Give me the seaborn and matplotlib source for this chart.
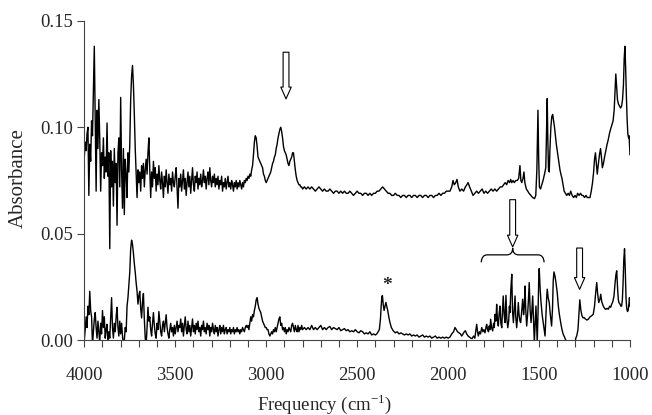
import numpy as np
import pandas as pd
import matplotlib
matplotlib.use("Agg")
import matplotlib.pyplot as plt
import seaborn as sns
from matplotlib.path import Path
from matplotlib.patches import PathPatch
from matplotlib.ticker import MultipleLocator, FormatStrFormatter

# ---------------- data ----------------
# Upper spectrum
upper_seg1_range = (4000, 3480)   # 5 cm-1 steps
upper_seg1 = [0.086, 0.093, 0.089, 0.097, 0.100, 0.068, 0.092, 0.084, 0.103, 0.096,
              0.118, 0.138, 0.102, 0.070, 0.108, 0.090, 0.113, 0.094, 0.070, 0.088,
              0.082, 0.095, 0.076, 0.086, 0.079, 0.102, 0.077, 0.088, 0.043, 0.089,
              0.072, 0.084, 0.063, 0.090, 0.074, 0.083, 0.054, 0.088, 0.095, 0.072,
              0.114, 0.080, 0.062, 0.090, 0.059, 0.085, 0.078, 0.067, 0.088, 0.079,
              0.092, 0.113, 0.124, 0.129, 0.120, 0.106, 0.090, 0.078, 0.067, 0.080,
              0.074, 0.079, 0.070, 0.082, 0.076, 0.083, 0.072, 0.080, 0.085, 0.078,
              0.088, 0.095, 0.080, 0.067, 0.079, 0.072, 0.084, 0.076, 0.081, 0.070,
              0.078, 0.073, 0.082, 0.075, 0.071, 0.079, 0.074, 0.067, 0.077, 0.072,
              0.080, 0.074, 0.069, 0.078, 0.073, 0.076, 0.070, 0.079, 0.074, 0.072,
              0.077, 0.081, 0.071, 0.062, 0.076]
upper_seg2_range = (3475, 3110)   # 5 cm-1 steps
upper_seg2 = [0.072, 0.078, 0.070, 0.075, 0.080, 0.071, 0.076, 0.068, 0.074, 0.079,
              0.072, 0.077, 0.069, 0.075, 0.081, 0.073, 0.070, 0.077, 0.074, 0.079,
              0.071, 0.076, 0.073, 0.078, 0.072, 0.075, 0.080, 0.074, 0.077, 0.071,
              0.076, 0.079, 0.073, 0.081, 0.075, 0.072, 0.077, 0.074, 0.078, 0.072,
              0.076, 0.073, 0.077, 0.071, 0.075, 0.073, 0.077, 0.070, 0.074, 0.072,
              0.076, 0.071, 0.074, 0.077, 0.072, 0.074, 0.071, 0.075, 0.073, 0.070,
              0.074, 0.072, 0.075, 0.071, 0.074, 0.072, 0.075, 0.073, 0.071, 0.074,
              0.072, 0.075, 0.074, 0.076]
upper_seg3_range = (3105, 2800)   # 5 cm-1 steps
upper_seg3 = [0.075, 0.077, 0.076, 0.078, 0.077, 0.080, 0.082, 0.087, 0.093, 0.096,
              0.095, 0.091, 0.086, 0.085, 0.084, 0.083, 0.082, 0.081, 0.078, 0.077,
              0.075, 0.074, 0.075, 0.076, 0.077, 0.078, 0.079, 0.081, 0.083, 0.084,
              0.086, 0.087, 0.090, 0.092, 0.095, 0.097, 0.099, 0.100, 0.098, 0.095,
              0.091, 0.089, 0.088, 0.087, 0.085, 0.083, 0.082, 0.084, 0.085, 0.086,
              0.088, 0.088, 0.084, 0.080, 0.077, 0.075, 0.074, 0.073, 0.073, 0.072,
              0.072, 0.071]
upper_seg4_range = (2790, 2000)   # 10 cm-1 steps
upper_seg4 = [0.072, 0.071, 0.072, 0.071, 0.072, 0.071, 0.070, 0.071, 0.072, 0.071,
              0.070, 0.071, 0.070, 0.070, 0.071, 0.070, 0.069, 0.070, 0.070, 0.069,
              0.070, 0.069, 0.070, 0.069, 0.069, 0.070, 0.069, 0.068, 0.069, 0.070,
              0.069, 0.069, 0.068, 0.069, 0.069, 0.068, 0.069, 0.068, 0.069, 0.069,
              0.070, 0.070, 0.071, 0.072, 0.071, 0.070, 0.069, 0.069, 0.068, 0.068,
              0.069, 0.068, 0.068, 0.067, 0.068, 0.068, 0.067, 0.068, 0.068, 0.067,
              0.068, 0.068, 0.067, 0.068, 0.068, 0.067, 0.068, 0.068, 0.067, 0.068,
              0.068, 0.067, 0.068, 0.068, 0.069, 0.068, 0.069, 0.069, 0.070, 0.070]
upper_seg5_wn = [1990, 1980, 1973, 1966, 1958, 1951, 1944, 1935, 1925, 1915, 1905, 1897,
                 1890, 1882, 1872, 1863, 1853, 1843, 1833, 1823, 1813, 1803, 1793, 1783,
                 1773, 1763, 1753, 1743, 1733, 1723, 1713, 1703, 1695, 1686, 1678, 1670,
                 1662, 1656, 1650, 1643, 1636, 1628, 1620, 1612, 1605, 1600, 1595, 1588,
                 1583, 1578, 1570, 1562, 1555, 1545, 1535, 1525, 1518, 1512, 1506, 1502,
                 1498, 1492, 1485, 1478, 1470, 1463, 1458, 1455, 1452, 1448, 1444, 1440,
                 1435, 1430, 1425, 1420, 1415, 1410, 1405, 1400, 1395, 1390, 1385, 1380,
                 1374, 1368, 1362, 1355, 1348, 1340, 1333, 1326, 1318, 1310, 1302, 1295,
                 1288, 1280, 1272, 1265, 1258, 1250, 1242, 1235, 1227, 1220, 1213, 1206,
                 1200, 1195, 1190, 1185, 1180, 1175, 1168, 1162, 1157, 1152, 1146, 1140,
                 1133, 1126, 1120, 1113, 1107, 1100, 1093, 1087, 1082, 1078, 1074, 1069,
                 1064, 1058, 1052, 1046, 1041, 1036, 1032, 1028, 1024, 1020, 1016, 1012,
                 1008, 1005, 1002, 1000]
upper_seg5 = [0.070, 0.072, 0.075, 0.073, 0.074, 0.0755, 0.072, 0.070, 0.071, 0.070, 0.072, 0.073,
              0.074, 0.072, 0.070, 0.068, 0.069, 0.070, 0.069, 0.070, 0.071, 0.069, 0.070, 0.069,
              0.070, 0.071, 0.070, 0.071, 0.070, 0.071, 0.072, 0.072, 0.073, 0.074, 0.073, 0.075,
              0.074, 0.0755, 0.074, 0.075, 0.074, 0.075, 0.075, 0.076, 0.082, 0.075, 0.074, 0.076,
              0.079, 0.074, 0.071, 0.070, 0.069, 0.068, 0.067, 0.0665, 0.068, 0.080, 0.108, 0.085,
              0.072, 0.071, 0.073, 0.075, 0.078, 0.081, 0.100, 0.1135, 0.095, 0.080, 0.079, 0.090,
              0.100, 0.105, 0.106, 0.103, 0.100, 0.096, 0.092, 0.089, 0.086, 0.083, 0.080, 0.078,
              0.076, 0.073, 0.070, 0.069, 0.068, 0.069, 0.068, 0.070, 0.068, 0.067, 0.068, 0.067,
              0.069, 0.068, 0.069, 0.068, 0.068, 0.067, 0.068, 0.067, 0.067, 0.067, 0.070, 0.074,
              0.079, 0.085, 0.088, 0.083, 0.078, 0.082, 0.087, 0.090, 0.086, 0.081, 0.083, 0.086,
              0.089, 0.092, 0.094, 0.097, 0.099, 0.101, 0.103, 0.108, 0.118, 0.125, 0.120, 0.113,
              0.111, 0.110, 0.109, 0.110, 0.113, 0.120, 0.132, 0.138, 0.128, 0.115, 0.104, 0.097,
              0.095, 0.096, 0.091, 0.087]

# Lower spectrum
lower_seg1_range = (4000, 3480)   # 5 cm-1 steps
lower_seg1 = [0.000, 0.005, 0.011, 0.006, 0.016, 0.012, 0.023, 0.014, 0.011, -0.002,
              0.004, 0.010, 0.013, 0.006, 0.001, 0.009, 0.004, -0.001, 0.008, 0.003,
              0.014, 0.006, 0.011, 0.001, 0.005, 0.0075, -0.001, 0.004, 0.001, 0.010,
              0.020, 0.006, 0.001, 0.008, 0.004, 0.011, 0.0155, 0.006, 0.002, 0.009,
              0.003, 0.008, 0.002, -0.002, 0.000, 0.006, 0.004, 0.016, 0.020, 0.026,
              0.032, 0.043, 0.047, 0.045, 0.041, 0.036, 0.032, 0.027, 0.023, 0.017,
              0.021, 0.023, 0.015, 0.0105, 0.018, 0.022, 0.010, 0.001, -0.002, 0.006,
              0.0155, 0.009, 0.011, 0.005, 0.002, 0.008, 0.013, 0.007, 0.003, 0.001,
              0.008, 0.005, 0.0135, 0.009, 0.004, 0.002, 0.007, 0.009, 0.004, 0.008,
              0.012, 0.006, 0.003, 0.001, 0.005, 0.008, 0.004, 0.006, 0.002, 0.007,
              0.003, 0.006, 0.009, 0.004, 0.007]
lower_seg2_range = (3475, 3110)   # 5 cm-1 steps
lower_seg2 = [0.006, 0.010, 0.004, 0.008, 0.002, 0.007, 0.011, 0.005, 0.003, 0.009,
              0.004, 0.007, 0.002, 0.006, 0.010, 0.004, 0.007, 0.003, 0.008, 0.005,
              0.009, 0.004, 0.006, 0.002, 0.007, 0.005, 0.009, 0.004, 0.006, 0.003,
              0.008, 0.005, 0.007, 0.002, 0.006, 0.004, 0.008, 0.005, 0.003, 0.007,
              0.004, 0.006, 0.002, 0.005, 0.007, 0.003, 0.006, 0.004, 0.007, 0.003,
              0.005, 0.006, 0.003, 0.005, 0.004, 0.006, 0.003, 0.005, 0.004, 0.006,
              0.003, 0.005, 0.004, 0.006, 0.004, 0.005, 0.003, 0.005, 0.004, 0.006,
              0.005, 0.004, 0.006, 0.007]
lower_seg3_range = (3105, 2800)   # 5 cm-1 steps
lower_seg3 = [0.006, 0.007, 0.005, 0.008, 0.011, 0.009, 0.012, 0.011, 0.014, 0.016,
              0.019, 0.020, 0.017, 0.015, 0.014, 0.013, 0.011, 0.009, 0.008, 0.007,
              0.006, 0.006, 0.005, 0.005, 0.003, 0.002, 0.003, 0.004, 0.003, 0.005,
              0.004, 0.006, 0.004, 0.006, 0.008, 0.010, 0.011, 0.007, 0.008, 0.005,
              0.006, 0.004, 0.006, 0.003, 0.005, 0.004, 0.006, 0.005, 0.004, 0.007,
              0.008, 0.006, 0.004, 0.007, 0.005, 0.004, 0.007, 0.004, 0.006, 0.005,
              0.007, 0.005]
lower_seg4_wn = [2790, 2780, 2770, 2760, 2750, 2740, 2730, 2720, 2710, 2700, 2690, 2680,
                 2670, 2660, 2650, 2640, 2630, 2620, 2610, 2600, 2590, 2580, 2570, 2560,
                 2550, 2540, 2530, 2520, 2510, 2500, 2490, 2480, 2470, 2460, 2450, 2440,
                 2430, 2420, 2410, 2400, 2392, 2385, 2378, 2372, 2368, 2364, 2361, 2357,
                 2352, 2347, 2342, 2337, 2332, 2326, 2320, 2312, 2302, 2290, 2280, 2270,
                 2260, 2250, 2240, 2230, 2220, 2210, 2200, 2190, 2180, 2170, 2160, 2150,
                 2140, 2130, 2120, 2110, 2100, 2090, 2080, 2070, 2060, 2050, 2040, 2030,
                 2020, 2010, 2000]
lower_seg4 = [0.006, 0.005, 0.006, 0.005, 0.007, 0.005, 0.006, 0.005, 0.006, 0.007, 0.005, 0.006,
              0.005, 0.006, 0.0065, 0.005, 0.006, 0.0055, 0.005, 0.006, 0.0045, 0.005, 0.0055, 0.0045,
              0.005, 0.004, 0.0045, 0.004, 0.005, 0.004, 0.0035, 0.0045, 0.004, 0.003, 0.0035, 0.003,
              0.004, 0.0025, 0.003, 0.0025, 0.003, 0.004, 0.005, 0.010, 0.016, 0.0205, 0.021, 0.017,
              0.014, 0.016, 0.0178, 0.016, 0.014, 0.011, 0.0085, 0.006, 0.0045, 0.0035, 0.004, 0.003,
              0.0035, 0.003, 0.0025, 0.003, 0.0025, 0.003, 0.002, 0.0025, 0.002, 0.0025, 0.0015, 0.002,
              0.0025, 0.0015, 0.002, 0.0015, 0.002, 0.001, 0.0015, 0.002, 0.001, 0.0015, 0.001, 0.0015,
              0.001, 0.0015, 0.001]
lower_seg5_wn = [1990, 1980, 1970, 1962, 1955, 1948, 1940, 1932, 1925, 1918, 1911, 1905,
                 1898, 1890, 1882, 1875, 1868, 1860, 1853, 1847, 1843, 1838, 1834, 1828,
                 1822, 1815, 1809, 1803, 1797, 1792, 1788, 1783, 1778, 1774, 1770, 1766,
                 1761, 1755, 1750, 1746, 1742, 1737, 1733, 1729, 1724, 1720, 1715, 1710,
                 1705, 1701, 1697, 1692, 1687, 1682, 1677, 1672, 1667, 1663, 1660, 1655,
                 1650, 1646, 1641, 1636, 1632, 1628, 1623, 1619, 1614, 1610, 1605, 1601,
                 1596, 1590, 1585, 1581, 1577, 1573, 1568, 1563, 1559, 1554, 1549, 1544,
                 1540, 1535, 1530, 1526, 1521, 1517, 1513, 1510, 1505, 1502, 1499, 1494,
                 1489, 1483, 1477, 1472, 1467, 1462, 1458, 1455, 1450, 1444, 1438, 1431,
                 1426, 1422, 1418, 1412, 1407, 1400, 1394, 1388, 1381, 1374, 1367, 1360,
                 1353, 1348, 1340, 1330, 1320, 1310, 1302, 1298, 1293, 1286, 1281, 1276,
                 1270, 1264, 1258, 1253, 1245, 1237, 1229, 1220, 1211, 1202, 1195, 1189,
                 1183, 1178, 1172, 1166, 1161, 1155, 1147, 1140, 1133, 1126, 1119, 1112,
                 1106, 1101, 1095, 1088, 1082, 1077, 1073, 1068, 1064, 1061, 1055, 1050,
                 1046, 1042, 1038, 1034, 1030, 1026, 1022, 1018, 1014, 1010, 1006, 1003,
                 1000]
lower_seg5 = [0.0015, 0.003, 0.004, 0.006, 0.005, 0.004, 0.0035, 0.003, 0.002, 0.003, 0.004, 0.0045,
              0.003, 0.002, 0.0015, 0.001, 0.0008, 0.002, 0.001, 0.005, 0.0075, 0.004, 0.002, 0.004,
              0.003, 0.006, 0.004, 0.005, 0.0035, 0.006, 0.0075, 0.005, 0.004, 0.0067, 0.005, 0.0099,
              0.006, 0.0044, 0.008, 0.006, 0.0122, 0.009, 0.0169, 0.010, 0.0067, 0.012, 0.0161, 0.008,
              0.0059, 0.014, 0.0208, 0.012, 0.0083, 0.0211, 0.010, 0.0059, 0.009, 0.016, 0.013, 0.024,
              0.031, 0.014, 0.0083, 0.015, 0.0208, 0.011, 0.0059, 0.010, 0.0177, 0.012, 0.009, 0.0083,
              0.013, 0.0193, 0.012, 0.016, 0.0255, 0.014, 0.0067, 0.012, 0.018, 0.0271, 0.014, 0.0083,
              0.013, 0.0208, 0.008, -0.001, 0.008, 0.0161, 0.006, -0.001, 0.015, 0.028, 0.0337, 0.024,
              0.0177, 0.012, 0.0083, 0.005, 0.002, 0.012, 0.020, 0.024, 0.020, 0.0177, 0.012, 0.0067,
              0.015, 0.028, 0.0321, 0.030, 0.0271, 0.0223, 0.0161, 0.012, 0.0083, 0.005, 0.0028, 0.0015,
              0.000, -0.001, -0.002, -0.003, -0.002, -0.003, -0.001, 0.001, 0.002, 0.005, 0.012, 0.019,
              0.014, 0.0115, 0.0105, 0.0107, 0.010, 0.0095, 0.0099, 0.011, 0.0115, 0.0122, 0.016, 0.022,
              0.0271, 0.022, 0.0177, 0.019, 0.0216, 0.018, 0.0161, 0.015, 0.0145, 0.015, 0.0146, 0.016,
              0.0155, 0.0169, 0.018, 0.0208, 0.027, 0.031, 0.0326, 0.024, 0.019, 0.0177, 0.017, 0.016,
              0.0161, 0.019, 0.027, 0.038, 0.043, 0.033, 0.020, 0.015, 0.0135, 0.014, 0.017, 0.020,
              0.016]

x_ticks = [4000, 3500, 3000, 2500, 2000, 1500, 1000]
y_ticks = [0.00, 0.05, 0.10, 0.15]

# annotation anchors (wavenumber, absorbance)
arrow_upper = (2891, 0.1133, 0.1352)      # x, tip, tail
arrow_bracket = (1645, 0.0438, 0.0660)
arrow_lower = (1277, 0.0239, 0.0433)
brace_span = (1818, 1472)                 # left, right ends
brace_levels = (0.0366, 0.0401, 0.0433)   # ends, body, tip
star_pos = (2337, 0.0255)


def build(parts):
    xs, ys = [], []
    for wn, vals in parts:
        if isinstance(wn, tuple):
            wn = np.linspace(wn[0], wn[1], len(vals))
        xs.append(np.asarray(wn, float))
        ys.append(np.asarray(vals, float))
    return np.concatenate(xs), np.concatenate(ys)


ux, uy = build([(upper_seg1_range, upper_seg1), (upper_seg2_range, upper_seg2),
                (upper_seg3_range, upper_seg3), (upper_seg4_range, upper_seg4),
                (upper_seg5_wn, upper_seg5)])
lx, ly = build([(lower_seg1_range, lower_seg1), (lower_seg2_range, lower_seg2),
                (lower_seg3_range, lower_seg3), (lower_seg4_wn, lower_seg4),
                (lower_seg5_wn, lower_seg5)])

df = pd.concat([
    pd.DataFrame({"wn": ux, "abs": uy, "spec": "upper"}),
    pd.DataFrame({"wn": lx, "abs": ly, "spec": "lower"}),
], ignore_index=True)

# ---------------- styling ----------------
sns.set_style("ticks")
plt.rcParams["font.family"] = ["Liberation Serif", "DejaVu Serif"]
plt.rcParams["mathtext.fontset"] = "custom"
plt.rcParams["mathtext.rm"] = "Liberation Serif"

fig = plt.figure(figsize=(6.52, 4.15), dpi=100)
ax = fig.add_axes([84.3 / 652, 1 - 340.3 / 415, (630 - 84.3) / 652, (340.3 - 20.7) / 415])

for name in ["upper", "lower"]:
    sub = df[df["spec"] == name]
    sns.lineplot(data=sub, x="wn", y="abs", ax=ax, color="black", linewidth=1.0,
                 estimator=None, sort=False, legend=False)

ax.set_xlim(4000, 1000)
ax.set_ylim(0, 0.15)
ax.set_xticks(x_ticks)
ax.set_xticklabels([str(t) for t in x_ticks])
ax.xaxis.set_minor_locator(MultipleLocator(100))
ax.set_yticks(y_ticks)
ax.yaxis.set_major_formatter(FormatStrFormatter("%.2f"))
ax.tick_params(axis="x", which="both", direction="out", length=5, width=0.8,
               color="#444444", labelsize=13.5, pad=14)
ax.tick_params(axis="y", which="both", direction="out", length=5, width=0.8,
               color="#444444", labelsize=13.5, pad=3)
for s in ["top", "right"]:
    ax.spines[s].set_visible(False)
for s in ["left", "bottom"]:
    ax.spines[s].set_color("#444444")
    ax.spines[s].set_linewidth(0.8)

ax.set_xlabel("Frequency (cm$^{\\mathrm{-1}}$)", fontsize=13.5)
ax.xaxis.set_label_coords((325 - 84.3) / 545.7, (340.3 - 404) / 319.6)
ax.xaxis.label.set_verticalalignment("center")
ax.set_ylabel("Absorbance", fontsize=15)
ax.yaxis.set_label_coords((18 - 84.3) / 545.7, (340.3 - 178) / 319.6)
ax.yaxis.label.set_verticalalignment("center")

# hollow arrows
astyle = "simple,head_length=0.85,head_width=0.75,tail_width=0.42"
for xa, tip, tail in [arrow_upper, arrow_bracket, arrow_lower]:
    ax.annotate("", xy=(xa, tip), xytext=(xa, tail),
                arrowprops=dict(arrowstyle=astyle, fc="white", ec="black", lw=0.8,
                                shrinkA=0, shrinkB=0, mutation_scale=10))

# curly brace
xl, xr = brace_span
y0, yh, yt = brace_levels
xm = 0.5 * (xl + xr)
d = 33
verts = [(xl, y0), (xl - 3, yh), (xl - d, yh),
         (xm + d, yh),
         (xm, yh), (xm, yt),
         (xm, yh), (xm - d, yh),
         (xr + d, yh),
         (xr + 3, yh), (xr, y0)]
codes = [Path.MOVETO, Path.CURVE3, Path.CURVE3,
         Path.LINETO,
         Path.CURVE3, Path.CURVE3,
         Path.CURVE3, Path.CURVE3,
         Path.LINETO,
         Path.CURVE3, Path.CURVE3]
ax.add_patch(PathPatch(Path(verts, codes), fc="none", ec="black", lw=0.9, clip_on=False))

ax.text(star_pos[0], star_pos[1], "*", ha="center", va="center", fontsize=14,
        fontweight="bold")

fig.savefig("out.png", dpi=100)
